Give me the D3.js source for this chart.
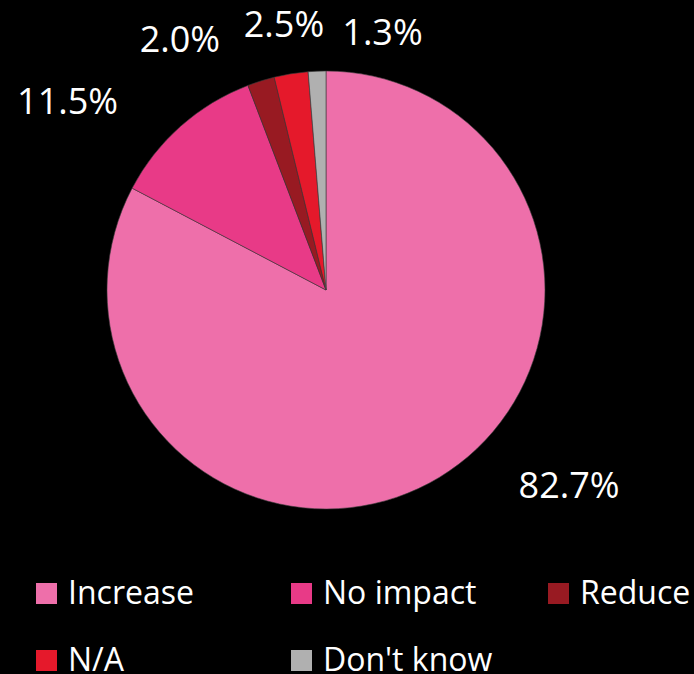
<!DOCTYPE html>
<html>
<head>
<meta charset="utf-8">
<script src="https://cdn.jsdelivr.net/npm/d3@7"></script>
<style>
  html, body { margin: 0; padding: 0; background: #000; }
  svg { display: block; }
  text { font-family: "Open Sans", "Noto Sans", sans-serif; fill: #fff; }
</style>
</head>
<body>
<svg id="chart" width="694" height="674"></svg>
<script>
// Survey answers and their shares (%)
const categories = ["Increase", "No impact", "Reduce", "N/A", "Don't know"];
const shares = [82.7, 11.5, 2.0, 2.5, 1.3];
const colors = ["#ee6faa", "#e83a87", "#981a22", "#e5192b", "#b0b0b0"];

// Layout
const W = 694, H = 674;
const cx = 326, cy = 290, R = 219;
// Label anchor (centre x, baseline y) offsets, in units of the pie radius from its centre
const labelOffsets = [[1.110, 0.950], [-1.180, -0.804], [-0.667, -1.087], [-0.192, -1.155], [0.258, -1.119]];
// Legend grid (swatch left edge, text baseline)
const legendCols = [36, 291, 548];
const legendRows = [604, 671];
const swatch = 21;

const svg = d3.select("#chart");
svg.append("rect").attr("width", W).attr("height", H).attr("fill", "#000");

const data = categories.map((c, i) => ({ cat: c, value: shares[i], off: labelOffsets[i] }));

const pie = d3.pie().value(d => d.value).sort(null);
const arc = d3.arc().innerRadius(0).outerRadius(R);
const color = d3.scaleOrdinal().domain(categories).range(colors);

const g = svg.append("g").attr("transform", `translate(${cx},${cy})`);
g.selectAll("path")
  .data(pie(data))
  .join("path")
  .attr("d", arc)
  .attr("fill", d => color(d.data.cat))
  .attr("stroke", "#3a3a3a")
  .attr("stroke-width", 0.6);

g.selectAll("text.lbl")
  .data(pie(data))
  .join("text")
  .attr("class", "lbl")
  .attr("x", d => d.data.off[0] * R)
  .attr("y", d => d.data.off[1] * R)
  .attr("text-anchor", "middle")
  .style("font-size", "36px")
  .text(d => d3.format(".1f")(d.data.value) + "%");

// Legend: three entries per row
const items = svg.append("g").selectAll("g")
  .data(categories)
  .join("g")
  .attr("transform", (d, i) => `translate(${legendCols[i % 3]},${legendRows[Math.floor(i / 3)]})`);
items.append("rect")
  .attr("x", 0).attr("y", -swatch)
  .attr("width", swatch).attr("height", swatch)
  .attr("fill", d => color(d));
items.append("text")
  .attr("x", 32).attr("y", 0)
  .style("font-size", "32px")
  .text(d => d);
</script>
</body>
</html>
